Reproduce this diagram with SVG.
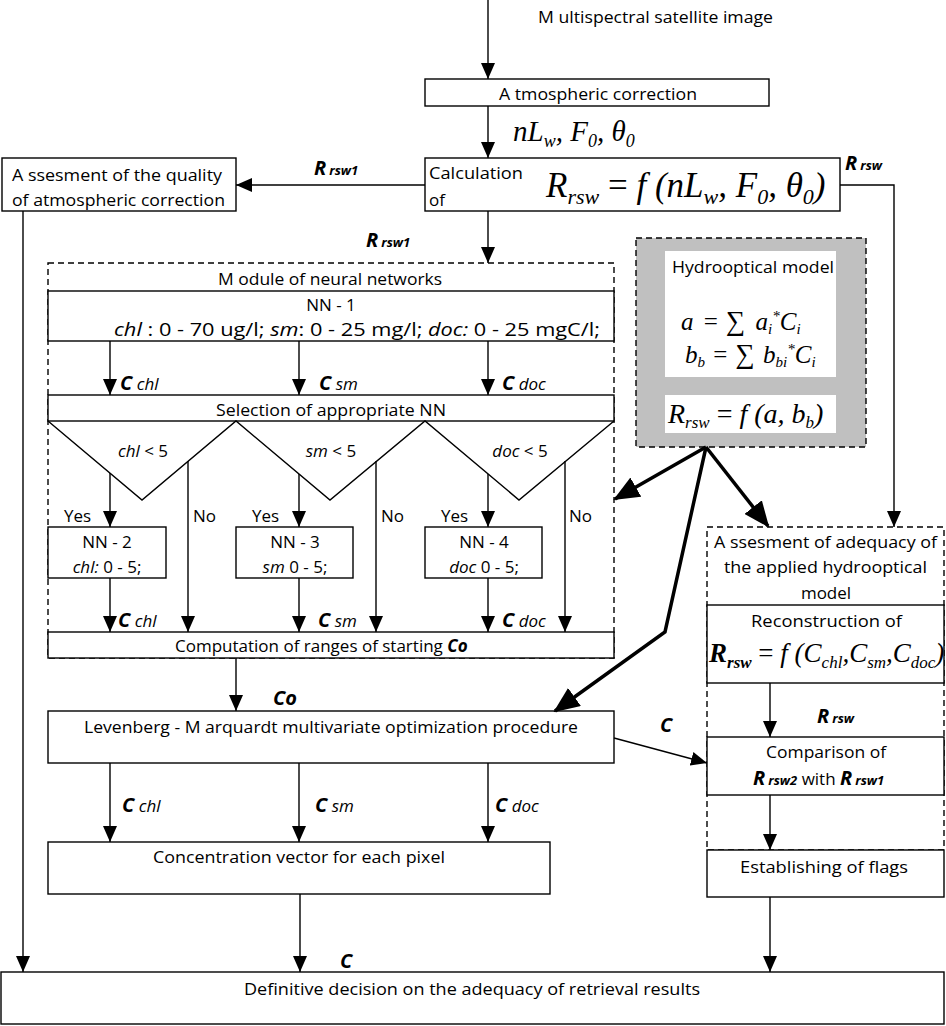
<svg xmlns="http://www.w3.org/2000/svg" width="946" height="1026" viewBox="0 0 946 1026">
<style>
.box{fill:#fff;stroke:#000;stroke-width:1.4}
.dash{fill:none;stroke:#000;stroke-width:1.4;stroke-dasharray:6 4}
.ln{fill:none;stroke:#000;stroke-width:1.4}
.thick{fill:none;stroke:#000;stroke-width:3.5}
.t{font-family:"Open Sans","Noto Sans",sans-serif;font-size:17px;fill:#000}
.c{text-anchor:middle}
.i{font-style:italic}
.bi{font-weight:bold;font-style:italic}
.lb{font-size:20px}
.m{font-family:"Liberation Serif","DejaVu Serif",serif;font-style:italic;fill:#000}
</style>
<defs>
<marker id="ar" viewBox="0 0 16 14" refX="16" refY="7" markerWidth="16" markerHeight="14" markerUnits="userSpaceOnUse" orient="auto"><path d="M0,0L16,7L0,14z"/></marker>
<marker id="art" viewBox="0 0 26 22" refX="24" refY="11" markerWidth="26" markerHeight="22" markerUnits="userSpaceOnUse" orient="auto"><path d="M0,0L26,11L0,22z"/></marker>
</defs>
<rect width="946" height="1026" fill="#fff"/>

<g id="input">
<text class="t" x="538" y="23" textLength="235" lengthAdjust="spacingAndGlyphs">M ultispectral satellite image</text>
</g>

<g id="atmos">
<rect class="box" x="425" y="79" width="344" height="27"/>
<text class="t" x="499" y="100" textLength="198" lengthAdjust="spacingAndGlyphs">A tmospheric correction</text>
</g>

<g id="calc">
<rect class="box" x="425" y="158" width="415" height="53"/>
<text class="t" x="429" y="179" textLength="94" lengthAdjust="spacingAndGlyphs">Calculation</text>
<text class="t" x="429" y="206">of</text>
<text class="m" x="546" y="197" font-size="35">R<tspan font-size="22" dy="7">rsw</tspan><tspan font-style="normal" dy="-7"> = </tspan>f (nL<tspan font-size="22" dy="7">w</tspan><tspan dy="-7">, F</tspan><tspan font-size="22" dy="7">0</tspan><tspan dy="-7">, θ</tspan><tspan font-size="22" dy="7">0</tspan><tspan dy="-7">)</tspan></text>
</g>

<g id="quality">
<rect class="box" x="2" y="158" width="234" height="53"/>
<text class="t" x="12" y="181" textLength="210" lengthAdjust="spacingAndGlyphs">A ssesment of the quality</text>
<text class="t" x="12" y="206" textLength="213" lengthAdjust="spacingAndGlyphs">of atmospheric correction</text>
</g>

<g id="module">
<rect class="dash" x="48" y="263" width="566" height="395"/>
<text class="t" x="218" y="285" textLength="224" lengthAdjust="spacingAndGlyphs">M odule of neural networks</text>
</g>

<g id="nn1">
<rect class="box" x="48" y="291" width="566" height="50"/>
<text class="t c" x="331" y="311">NN - 1</text>
<text class="t" x="114" y="336" style="font-size:19px" textLength="486" lengthAdjust="spacingAndGlyphs"><tspan class="i">chl</tspan> : 0 - 70 ug/l; <tspan class="i">sm</tspan>: 0 - 25 mg/l; <tspan class="i">doc:</tspan> 0 - 25 mgC/l;</text>
</g>

<g id="selection">
<rect class="box" x="48" y="395" width="566" height="26"/>
<text class="t" x="216" y="416" textLength="230" lengthAdjust="spacingAndGlyphs">Selection of appropriate NN</text>
</g>

<g id="conditions">
<polyline class="ln" points="48,421 142,500 236,421 330,500 425,421 519,500 614,421"/>
<text class="t c" x="143" y="457"><tspan class="i">chl</tspan>  &lt; 5</text>
<text class="t c" x="331" y="457"><tspan class="i">sm</tspan> &lt; 5</text>
<text class="t c" x="520" y="457"><tspan class="i">doc</tspan> &lt; 5</text>
</g>

<g id="nn2">
<rect class="box" x="48" y="527" width="118" height="51"/>
<text class="t c" x="107" y="548">NN - 2</text>
<text class="t c" x="107" y="573"><tspan class="i">chl:</tspan> 0 - 5;</text>
</g>
<g id="nn3">
<rect class="box" x="236" y="527" width="117" height="51"/>
<text class="t c" x="295" y="548">NN - 3</text>
<text class="t c" x="295" y="573"><tspan class="i">sm</tspan> 0 - 5;</text>
</g>
<g id="nn4">
<rect class="box" x="425" y="527" width="117" height="51"/>
<text class="t c" x="484" y="548">NN - 4</text>
<text class="t c" x="484" y="573"><tspan class="i">doc</tspan> 0 - 5;</text>
</g>

<g id="computation">
<rect class="box" x="48" y="632" width="566" height="26"/>
<text class="t" x="175" y="652">Computation of ranges of starting <tspan class="bi">Co</tspan></text>
</g>

<g id="levenberg">
<rect class="box" x="48" y="711" width="566" height="52"/>
<text class="t" x="84" y="733" textLength="494" lengthAdjust="spacingAndGlyphs">Levenberg - M arquardt multivariate optimization procedure</text>
</g>

<g id="concentration">
<rect class="box" x="48" y="842" width="502" height="52"/>
<text class="t" x="153" y="863" textLength="292" lengthAdjust="spacingAndGlyphs">Concentration vector for each pixel</text>
</g>

<g id="decision">
<rect class="box" x="1" y="972" width="943" height="52"/>
<text class="t" x="244" y="995" textLength="456" lengthAdjust="spacingAndGlyphs">Definitive decision on the adequacy of retrieval results</text>
</g>

<g id="hydro">
<rect x="636" y="238" width="230" height="209" fill="#c0c0c0" stroke="#000" stroke-width="1.4" stroke-dasharray="6 4"/>
<rect x="665" y="251" width="171" height="126" fill="#fff"/>
<rect x="665" y="395" width="171" height="38" fill="#fff"/>
<text class="t" x="672" y="273" textLength="162" lengthAdjust="spacingAndGlyphs">Hydrooptical model</text>
<text class="m" x="681" y="330" font-size="25">a<tspan font-style="normal" dx="4">  =  </tspan><tspan font-style="normal" font-size="27" dx="2">∑</tspan><tspan dx="4"> a</tspan><tspan font-size="15" dy="4">i</tspan><tspan font-size="15" dy="-13">*</tspan><tspan dy="9">C</tspan><tspan font-size="15" dy="4">i</tspan></text>
<text class="m" x="685" y="363" font-size="25">b<tspan font-size="15" dy="4">b</tspan><tspan font-style="normal" dy="-4" dx="2">  =  </tspan><tspan font-style="normal" font-size="27" dx="2">∑</tspan><tspan dx="2"> b</tspan><tspan font-size="15" dy="4">bi</tspan><tspan font-size="15" dy="-13">*</tspan><tspan dy="9">C</tspan><tspan font-size="15" dy="4">i</tspan></text>
<text class="m" x="668" y="423" font-size="28">R<tspan font-size="17" dy="5">rsw</tspan><tspan font-style="normal" dy="-5">  =  </tspan>f (a, b<tspan font-size="17" dy="5">b</tspan><tspan dy="-5">)</tspan></text>
</g>

<g id="adequacy">
<rect class="dash" x="707" y="527" width="237" height="323"/>
<text class="t" x="714" y="548" textLength="223" lengthAdjust="spacingAndGlyphs">A ssesment of adequacy of</text>
<text class="t" x="724" y="573" textLength="203" lengthAdjust="spacingAndGlyphs">the applied hydrooptical</text>
<text class="t c" x="826" y="599">model</text>
</g>

<g id="reconstruction">
<rect class="box" x="707" y="605" width="237" height="78"/>
<text class="t" x="751" y="627" textLength="151" lengthAdjust="spacingAndGlyphs">Reconstruction of</text>
<text class="m" x="709" y="662" font-size="27"><tspan font-weight="bold">R</tspan><tspan font-weight="bold" font-size="17" dy="6">rsw</tspan><tspan font-style="normal" dy="-6"> = </tspan>f (C<tspan font-size="17" dy="6">chl</tspan><tspan dy="-6">,C</tspan><tspan font-size="17" dy="6">sm</tspan><tspan dy="-6">,C</tspan><tspan font-size="17" dy="6">doc</tspan><tspan dy="-6">)</tspan></text>
</g>

<g id="comparison">
<rect class="box" x="707" y="737" width="237" height="58"/>
<text class="t" x="766" y="758" textLength="120" lengthAdjust="spacingAndGlyphs">Comparison of</text>
<text class="t" x="753" y="785"><tspan class="bi" font-size="20">R</tspan><tspan class="bi" font-size="13" dx="3">rsw2</tspan> with <tspan class="bi" font-size="20">R</tspan><tspan class="bi" font-size="13" dx="3">rsw1</tspan></text>
</g>

<g id="flags">
<rect class="box" x="707" y="850" width="237" height="47"/>
<text class="t" x="740" y="873" textLength="168" lengthAdjust="spacingAndGlyphs">Establishing of flags</text>
</g>

<g id="connectors">
<line class="ln" x1="488" y1="0" x2="488" y2="79" marker-end="url(#ar)"/>
<line class="ln" x1="488" y1="106" x2="488" y2="158" marker-end="url(#ar)"/>
<line class="ln" x1="425" y1="185" x2="236" y2="185" marker-end="url(#ar)"/>
<polyline class="ln" points="840,185 894,185 894,527" marker-end="url(#ar)"/>
<line class="ln" x1="488" y1="211" x2="488" y2="263" marker-end="url(#ar)"/>
<line class="ln" x1="23" y1="211" x2="23" y2="972" marker-end="url(#ar)"/>
<line class="ln" x1="110" y1="341" x2="110" y2="395" marker-end="url(#ar)"/>
<line class="ln" x1="299" y1="341" x2="299" y2="395" marker-end="url(#ar)"/>
<line class="ln" x1="488" y1="341" x2="488" y2="395" marker-end="url(#ar)"/>
<line class="ln" x1="110" y1="473" x2="110" y2="527" marker-end="url(#ar)"/>
<line class="ln" x1="299" y1="474" x2="299" y2="527" marker-end="url(#ar)"/>
<line class="ln" x1="488" y1="474" x2="488" y2="527" marker-end="url(#ar)"/>
<line class="ln" x1="188" y1="461" x2="188" y2="632" marker-end="url(#ar)"/>
<line class="ln" x1="376" y1="461" x2="376" y2="632" marker-end="url(#ar)"/>
<line class="ln" x1="565" y1="461" x2="565" y2="632" marker-end="url(#ar)"/>
<line class="ln" x1="110" y1="578" x2="110" y2="632" marker-end="url(#ar)"/>
<line class="ln" x1="299" y1="578" x2="299" y2="632" marker-end="url(#ar)"/>
<line class="ln" x1="488" y1="578" x2="488" y2="632" marker-end="url(#ar)"/>
<line class="ln" x1="236" y1="658" x2="236" y2="711" marker-end="url(#ar)"/>
<line class="ln" x1="110" y1="763" x2="110" y2="842" marker-end="url(#ar)"/>
<line class="ln" x1="299" y1="763" x2="299" y2="842" marker-end="url(#ar)"/>
<line class="ln" x1="488" y1="763" x2="488" y2="842" marker-end="url(#ar)"/>
<line class="ln" x1="300" y1="894" x2="300" y2="972" marker-end="url(#ar)"/>
<line class="ln" x1="614" y1="738" x2="707" y2="763" marker-end="url(#ar)"/>
<line class="ln" x1="770" y1="683" x2="770" y2="737" marker-end="url(#ar)"/>
<line class="ln" x1="770" y1="795" x2="770" y2="850" marker-end="url(#ar)"/>
<line class="ln" x1="770" y1="897" x2="770" y2="972" marker-end="url(#ar)"/>
<line class="thick" x1="706" y1="447" x2="615" y2="499" marker-end="url(#art)"/>
<line class="thick" x1="706" y1="447" x2="768" y2="526" marker-end="url(#art)"/>
<polyline class="thick" points="706,447 665,632 555,711" marker-end="url(#art)"/>

<text class="m" x="513" y="141" font-size="29">nL<tspan font-size="18" dy="6">w</tspan><tspan dy="-6">, F</tspan><tspan font-size="18" dy="6">0</tspan><tspan dy="-6">, θ</tspan><tspan font-size="18" dy="6">0</tspan></text>
<text class="t bi lb" x="314" y="175">R<tspan font-size="13" dx="3">rsw1</tspan></text>
<text class="t bi lb" x="845" y="170">R<tspan font-size="13" dx="3">rsw</tspan></text>
<text class="t bi lb" x="366" y="247">R<tspan font-size="13" dx="3">rsw1</tspan></text>
<text class="t" x="120" y="390"><tspan class="bi" font-size="20">C</tspan> <tspan class="i">chl</tspan></text>
<text class="t" x="319" y="390"><tspan class="bi" font-size="20">C</tspan> <tspan class="i">sm</tspan></text>
<text class="t" x="502" y="390"><tspan class="bi" font-size="20">C</tspan> <tspan class="i">doc</tspan></text>
<text class="t" x="64" y="522">Yes</text>
<text class="t" x="252" y="522">Yes</text>
<text class="t" x="441" y="522">Yes</text>
<text class="t" x="193" y="522">No</text>
<text class="t" x="381" y="522">No</text>
<text class="t" x="569" y="522">No</text>
<text class="t" x="118" y="627"><tspan class="bi" font-size="20">C</tspan> <tspan class="i">chl</tspan></text>
<text class="t" x="318" y="627"><tspan class="bi" font-size="20">C</tspan> <tspan class="i">sm</tspan></text>
<text class="t" x="502" y="627"><tspan class="bi" font-size="20">C</tspan> <tspan class="i">doc</tspan></text>
<text class="t bi lb" x="273" y="705">Co</text>
<text class="t" x="122" y="812"><tspan class="bi" font-size="20">C</tspan> <tspan class="i">chl</tspan></text>
<text class="t" x="315" y="812"><tspan class="bi" font-size="20">C</tspan> <tspan class="i">sm</tspan></text>
<text class="t" x="495" y="812"><tspan class="bi" font-size="20">C</tspan> <tspan class="i">doc</tspan></text>
<text class="t bi lb" x="660" y="732">C</text>
<text class="t bi lb" x="817" y="723">R<tspan font-size="13" dx="3">rsw</tspan></text>
<text class="t bi lb" x="340" y="968">C</text>
</g>
</svg>
